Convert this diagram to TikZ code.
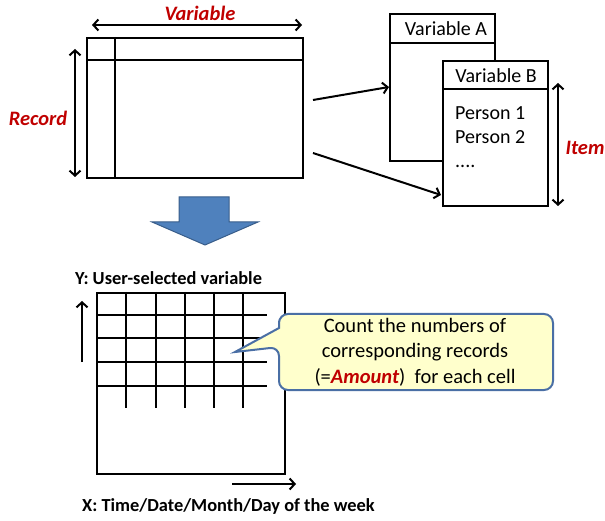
\documentclass[tikz,border=0pt]{standalone}
\usepackage{fontspec}
\setmainfont{Carlito}
\usetikzlibrary{arrows.meta,calc}
\definecolor{lblred}{HTML}{C00000}
\definecolor{arrblue}{HTML}{4F81BD}
\definecolor{arrbord}{HTML}{385D8A}
\definecolor{callfill}{HTML}{FFFFCC}
\definecolor{callbord}{HTML}{4A6FA5}
\begin{document}
\begin{tikzpicture}[x=1pt,y=-1pt,
  line/.style={line width=2pt},
  box/.style={draw,line width=2pt,fill=white,inner sep=0pt,anchor=north west},
  redlbl/.style={text=lblred,font=\fontsize{20.5}{24}\selectfont\bfseries\itshape,inner sep=0pt},
  txt/.style={font=\fontsize{20}{24}\selectfont,inner sep=0pt},
  axlbl/.style={font=\fontsize{18.4}{22}\selectfont\bfseries,inner sep=0pt,anchor=west},
  dimarr/.style={line width=2pt,{Straight Barb[length=5pt,width=11pt]}-{Straight Barb[length=5pt,width=11pt]}},
  onearr/.style={line width=2pt,-{Straight Barb[length=5pt,width=11pt]}},
  callout/.style={fill=callfill,draw=callbord,line width=2pt}
]
\useasboundingbox (0,0) rectangle (605,521);

% top table
\node[box,minimum width=216pt,minimum height=140pt] (tab) at (86,37) {};
\draw[line] (86,60) -- (302,60);
\draw[line] (115,37) -- (115,177);
\coordinate (v1) at (92,25); \coordinate (v2) at (302,25);
\draw[dimarr] (v1) -- (v2);
\node[redlbl] (varlbl) at (200,13) {Variable};
\coordinate (r1) at (75,49); \coordinate (r2) at (75,177);
\draw[dimarr] (r1) -- (r2);
\node[redlbl] (reclbl) at (38,118) {Record};

% variable boxes
\node[box,minimum width=105pt,minimum height=147pt] (vA) at (389,13) {};
\draw[line] (389,43) -- (494,43);
\node[txt] (vAt) at (446,29) {Variable A};
\node[box,minimum width=105pt,minimum height=145pt] (vB) at (442,60) {};
\draw[line] (442,89) -- (547,89);
\node[txt] (vBt) at (496,76) {Variable B};
\node[txt,anchor=north west,align=left] (persons) at (455,106.5) {Person 1\\Person 2\\....};
\coordinate (i1) at (558,83); \coordinate (i2) at (558,206);
\draw[dimarr] (i1) -- (i2);
\node[redlbl] (itemlbl) at (585,148) {Item};

% connectors
\coordinate (s1) at (313,100); \coordinate (e1) at (389,87);
\coordinate (s2) at (313,153); \coordinate (e2) at (441,195);
\draw[onearr] (s1) -- (e1);
\draw[onearr] (s2) -- (e2);

% big arrow
\draw[fill=arrblue,draw=arrbord,line width=1pt]
  (179,197) -- (229,197) -- (229,222) -- (258,222) -- (205,245) -- (152,222) -- (179,222) -- cycle;

% grid
\node[axlbl] (ylbl) at (75,278) {Y: User-selected variable};
\node[box,minimum width=188pt,minimum height=181pt] (grid) at (96,292) {};
\foreach \x in {126,156,185,214,243} \draw[line] (\x,292) -- (\x,408);
\foreach \y in {315,338,362,386} \draw[line] (96,\y) -- (267,\y);
\coordinate (ya) at (82,362); \coordinate (yb) at (82,301);
\draw[onearr] (ya) -- (yb);
\coordinate (xa) at (232,484); \coordinate (xb) at (296,484);
\draw[onearr] (xa) -- (xb);
\node[axlbl] (xlbl) at (82,506) {X: Time/Date/Month/Day of the week};

% callout
\draw[callout,rounded corners=9pt] (279,330) -- (279,314) -- (553,314) -- (553,390) -- (279,390) -- (279,347)
  [sharp corners] -- (235,352) -- (279,328) [rounded corners=9pt] -- cycle;
\node[txt,align=center,font=\fontsize{20.5}{25.5}\selectfont] (calltxt) at (415,352)
  {Count the numbers of\\corresponding records\\(=\textcolor{lblred}{\bfseries\itshape Amount})\ \ for each cell};
\end{tikzpicture}
\end{document}
